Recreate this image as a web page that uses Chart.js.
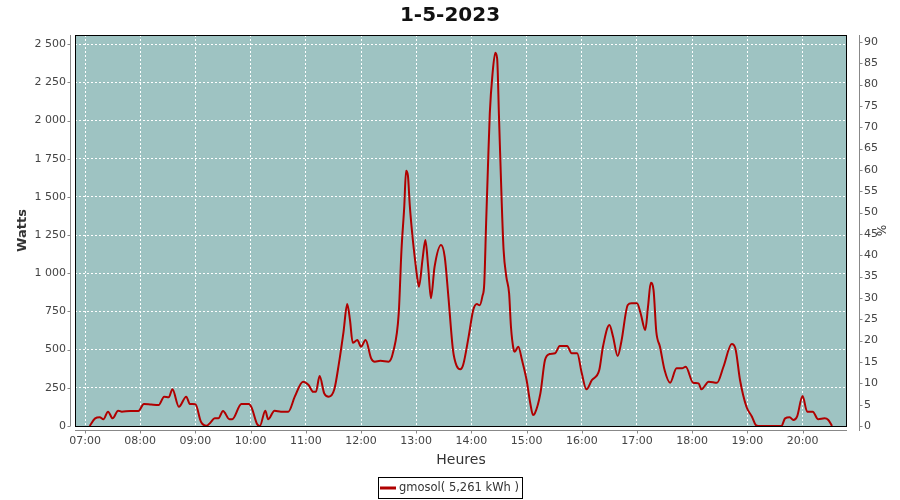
<!DOCTYPE html>
<html><head><meta charset="utf-8">
<script src="https://cdn.jsdelivr.net/npm/chart.js@4/dist/chart.umd.min.js"></script>
<style>html,body{margin:0;padding:0;background:#fff}#wrap{width:900px;height:500px}</style>
</head><body><div id="wrap"><canvas id="c" width="900" height="500"></canvas></div>
<script>
const chartTitle = "1-5-2023";
const seriesName = "gmosol( 5,261 kWh )";
const times = ["07:05","07:11","07:16","07:20","07:25","07:30","07:36","07:40","07:49","07:58","08:04","08:12","08:20","08:26","08:31","08:35","08:42","08:50","08:54","09:00","09:06","09:12","09:16","09:21","09:25","09:30","09:37","09:40","09:50","09:58","10:01","10:07","10:10","10:16","10:19","10:26","10:33","10:41","10:48","10:57","11:03","11:08","11:11","11:15","11:20","11:25","11:31","11:36","11:41","11:45","11:48","11:51","11:56","12:00","12:05","12:11","12:15","12:21","12:30","12:35","12:41","12:44","12:47","12:49","12:51","12:53","12:56","12:59","13:01","13:03","13:07","13:10","13:13","13:16","13:20","13:27","13:31","13:35","13:40","13:44","13:48","13:51","13:57","14:02","14:06","14:09","14:12","14:14","14:16","14:18","14:20","14:23","14:26","14:28","14:30","14:33","14:35","14:38","14:41","14:43","14:46","14:47","14:51","14:55","15:00","15:04","15:07","15:09","15:15","15:20","15:25","15:31","15:36","15:44","15:49","15:55","16:00","16:05","16:11","16:19","16:23","16:30","16:34","16:39","16:43","16:50","16:54","17:00","17:04","17:09","17:12","17:15","17:18","17:21","17:25","17:30","17:36","17:43","17:49","17:53","18:01","18:07","18:10","18:18","18:27","18:34","18:43","18:47","18:52","18:59","19:05","19:09","19:12","19:37","19:41","19:46","19:50","19:54","20:00","20:05","20:11","20:17","20:24","20:28","20:32"];
const watts = [0,50,57,44,94,50,100,94,98,98,144,140,137,192,188,240,126,192,144,142,28,2,20,50,50,98,44,44,144,144,122,13,0,100,44,100,94,94,192,290,268,224,224,327,214,192,240,410,617,798,694,545,563,519,563,443,421,427,421,486,737,1152,1435,1671,1640,1446,1239,1075,977,912,1098,1217,1043,836,1043,1185,1108,846,497,393,371,399,585,759,798,790,850,934,1327,1697,2047,2308,2443,2406,2024,1457,1152,977,868,650,497,486,519,432,301,149,72,83,214,432,471,476,524,524,476,476,345,240,301,366,519,661,585,458,552,792,803,803,737,628,781,938,890,617,519,366,283,378,378,388,283,279,240,290,283,388,537,508,301,126,61,7,0,0,50,57,39,61,196,94,94,44,50,39,0];
const wattTicks = [0,250,500,750,1000,1250,1500,1750,2000,2250,2500];
const pctTicks = [0,5,10,15,20,25,30,35,40,45,50,55,60,65,70,75,80,85,90];
const hourTicks = ["07:00","08:00","09:00","10:00","11:00","12:00","13:00","14:00","15:00","16:00","17:00","18:00","19:00","20:00"];

const toMin = s => { const p = s.split(":"); return (+p[0])*60 + (+p[1]); };
const fmtHM = m => { const h = Math.floor(m/60), mm = Math.round(m%60); return String(h).padStart(2,"0")+":"+String(mm).padStart(2,"0"); };
const points = times.map((t,i)=>({x: toMin(t), y: watts[i]}));
const FONT = "'DejaVu Sans', sans-serif";
const LINE_COLOR = '#b00000';

const decor = {
  id: 'decor',
  beforeDraw(chart) {
    const {ctx, chartArea: a} = chart;
    ctx.save();
    ctx.fillStyle = '#9ec3c2';
    ctx.fillRect(a.left, a.top, a.right - a.left, a.bottom - a.top);
    ctx.restore();
  },
  afterDraw(chart) {
    const {ctx, chartArea: a, scales} = chart;
    ctx.save();
    ctx.strokeStyle = '#000'; ctx.lineWidth = 1;
    ctx.strokeRect(a.left + 0.5, a.top + 0.5, a.right - a.left - 1, a.bottom - a.top);
    ctx.strokeStyle = '#888';
    ctx.beginPath();
    const lx = a.left - 4.5;
    ctx.moveTo(lx, a.top); ctx.lineTo(lx, a.bottom);
    scales.y.ticks.forEach(t => { const y = Math.round(scales.y.getPixelForValue(t.value)) + 0.5; ctx.moveTo(lx - 3, y); ctx.lineTo(lx, y); });
    const rx = a.right + 12.5;
    ctx.moveTo(rx, a.top); ctx.lineTo(rx, a.bottom + 5);
    scales.y1.ticks.forEach(t => { const y = Math.round(scales.y1.getPixelForValue(t.value)) + 0.5; ctx.moveTo(rx, y); ctx.lineTo(rx + 3, y); });
    const by = a.bottom + 4.5;
    ctx.moveTo(a.left, by); ctx.lineTo(a.right, by);
    scales.x.ticks.forEach(t => { const x = Math.round(scales.x.getPixelForValue(t.value)) + 0.5; ctx.moveTo(x, by); ctx.lineTo(x, by + 3); });
    ctx.stroke();
    // legend (drawn below the x axis, centred)
    const label = chart.data.datasets[0].label;
    ctx.font = "11.5px " + FONT;
    const tw = ctx.measureText(label).width;
    const total = 2 + 16 + 3 + tw + 3;
    const x0 = Math.round(chart.width / 2 - total / 2) + 0.5;
    const yTop = 477.5, yBot = 498.5, yMid = 488;
    ctx.strokeStyle = '#000';
    ctx.strokeRect(x0, yTop, Math.round(total), yBot - yTop);
    ctx.fillStyle = chart.data.datasets[0].borderColor;
    ctx.fillRect(x0 + 1.5, yMid - 1.5, 16, 3);
    ctx.fillStyle = '#333';
    ctx.textBaseline = 'middle';
    ctx.textAlign = 'left';
    ctx.fillText(label, x0 + 2 + 16 + 2.5, yMid);
    ctx.restore();
  }
};

new Chart(document.getElementById('c'), {
  type: 'line',
  data: { datasets: [{
    label: seriesName,
    data: points,
    borderColor: LINE_COLOR,
    backgroundColor: LINE_COLOR,
    borderWidth: 2,
    pointRadius: 0,
    cubicInterpolationMode: 'monotone',
    yAxisID: 'y'
  }]},
  options: {
    responsive: false,
    animation: false,
    layout: { padding: {left: 0, right: 0, top: 0, bottom: 26} },
    plugins: {
      title: { display: true, text: chartTitle, color: '#111', font: {family: FONT, size: 20, weight: 'bold'}, padding: {top: 4, bottom: 7} },
      legend: { display: false },
      tooltip: { enabled: false }
    },
    scales: {
      x: {
        type: 'linear',
        min: toMin("06:49") + 0.1, max: toMin("20:48") + 0.3,
        afterFit: s => { s.height = 48; },
        afterBuildTicks: s => { s.ticks = hourTicks.map(h => ({value: toMin(h)})); },
        ticks: { maxTicksLimit: 40, autoSkip: false, padding: 9, color: '#444', font: {family: FONT, size: 11}, callback: v => fmtHM(v), maxRotation: 0 },
        grid: { color: '#ffffff', drawTicks: false },
        border: { display: false, dash: [2,2] },
        title: { display: true, text: 'Heures', color: '#333', font: {family: FONT, size: 14}, padding: {top: 2, bottom: 5} }
      },
      y: {
        position: 'left',
        min: 0, max: 2560,
        afterFit: s => { s.width = 75; },
        afterBuildTicks: s => { s.ticks = wattTicks.map(v => ({value: v})); },
        ticks: { maxTicksLimit: 40, padding: 9, color: '#444', font: {family: FONT, size: 11}, callback: v => String(v).replace(/\B(?=(\d{3})+(?!\d))/g, ' ') },
        grid: { color: '#ffffff', drawTicks: false },
        border: { display: false, dash: [2,2] },
        title: { display: true, text: 'Watts', color: '#333', font: {family: FONT, size: 13, weight: 'bold'}, padding: {top: 15, bottom: 0} }
      },
      y1: {
        position: 'right',
        display: true,
        min: 0, max: 91.6,
        afterFit: s => { s.width = 53; },
        afterBuildTicks: s => { s.ticks = pctTicks.map(v => ({value: v})); },
        ticks: { maxTicksLimit: 40, padding: 17, color: '#444', font: {family: FONT, size: 11} },
        grid: { display: false, drawTicks: false },
        border: { display: false },
        title: { display: true, text: '%', color: '#333', font: {family: FONT, size: 12}, padding: {top: 13, bottom: 0} }
      }
    }
  },
  plugins: [decor]
});
</script></body></html>
